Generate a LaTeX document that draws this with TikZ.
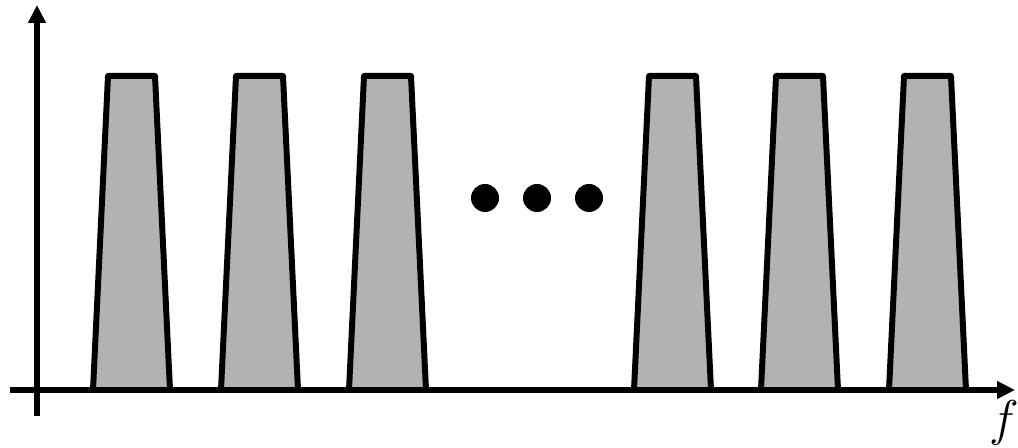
\documentclass[tikz,border=0pt]{standalone}
\usetikzlibrary{arrows.meta}

\begin{document}
\begin{tikzpicture}[
    x=0.02cm, y=0.02cm,
    >={Triangle[length=0.36cm, width=0.34cm]},
    axis/.style={line width=3pt, ->},
    band/.style={fill=black!30, draw=black, line width=3.4pt, line join=round},
    dot/.style={fill=black}
]
\useasboundingbox (0,0) rectangle (1018,448);

% --- Axes ---
\coordinate (origin) at (37,58);
\draw[axis] (37,32) -- (37,443);
\draw[axis] (10,58) -- (1015,58);
\node[font=\Huge, scale=1.15] (flabel) at (1004,25) {$f$};

% --- Frequency bands ---
\foreach \x in {92,220,348,633,760,888}
    \draw[band] (\x+1,58) -- (\x+16,372) -- (\x+63,372) -- (\x+78,58) -- cycle;

% --- Dots ---
\foreach \x in {485,537,589}
    \fill[dot] (\x,250) circle (14);

\end{tikzpicture}
\end{document}
